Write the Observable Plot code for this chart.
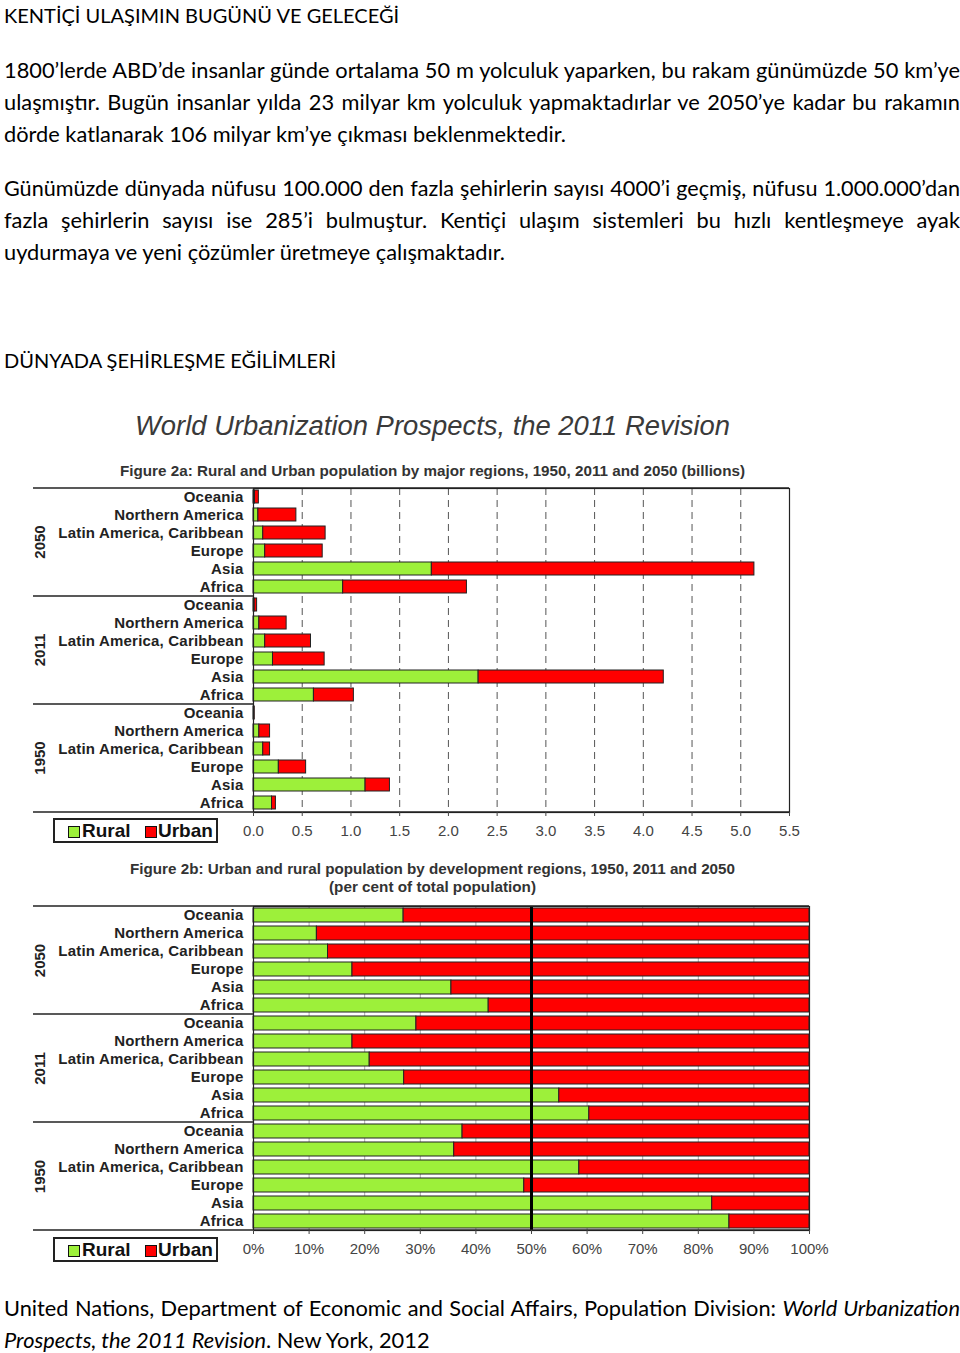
<!DOCTYPE html>
<html>
<head>
<meta charset="utf-8">
<script src="https://cdn.jsdelivr.net/npm/d3@7"></script>
<script src="https://cdn.jsdelivr.net/npm/@observablehq/plot@0.6"></script>
<style>
  html, body { margin: 0; padding: 0; background: #fff; }
  #page { position: relative; width: 960px; height: 1353px; overflow: hidden; }
  .txt { position: absolute; left: 4px; width: 956px; font-family: Lato, "Open Sans", sans-serif; font-size: 21.8px; line-height: 32px; color: #000; }
  .hd { font-size: 20px; }
  .j { text-align: justify; text-align-last: justify; }
  .ct { position: absolute; left: 0; white-space: nowrap; font-family: "Liberation Sans", Arial, sans-serif; color: #333; transform-origin: 0 50%; }
  .chart { position: absolute; left: 0; }
  .chart g[aria-label="y-axis tick label"] text { letter-spacing: 0.2px; }
  .legend { position: absolute; left: 53px; width: 165px; height: 25px; border: 2px solid #222; box-sizing: border-box; }
  .legend .sw { position: absolute; top: 6px; width: 10px; height: 10px; border: 1px solid #111; }
  .legend .lt { position: absolute; top: 0; line-height: 21px; font-family: "Liberation Sans", Arial, sans-serif; font-weight: bold; font-size: 19px; color: #111; }
</style>
</head>
<body>
<div id="page">
  <div class="txt hd" style="top:-1px">KENTİÇİ ULAŞIMIN BUGÜNÜ VE GELECEĞİ</div>
  <div class="txt" style="top:54px">
    <div class="j">1800’lerde ABD’de insanlar günde ortalama 50 m yolculuk yaparken, bu rakam günümüzde 50 km’ye</div>
    <div class="j">ulaşmıştır. Bugün insanlar yılda 23 milyar km yolculuk yapmaktadırlar ve 2050’ye kadar bu rakamın</div>
    <div>dörde katlanarak 106 milyar km’ye çıkması beklenmektedir.</div>
  </div>
  <div class="txt" style="top:172px">
    <div class="j">Günümüzde dünyada nüfusu 100.000 den fazla şehirlerin sayısı 4000’i geçmiş, nüfusu 1.000.000’dan</div>
    <div class="j">fazla şehirlerin sayısı ise 285’i bulmuştur. Kentiçi ulaşım sistemleri bu hızlı kentleşmeye ayak</div>
    <div>uydurmaya ve yeni çözümler üretmeye çalışmaktadır.</div>
  </div>
  <div class="txt hd" style="top:344px">DÜNYADA ŞEHİRLEŞME EĞİLİMLERİ</div>

  <div class="ct" id="t0" data-x="135" data-w="595" style="top:409px;font-size:27px;line-height:34px;font-style:italic;color:#3a3a3a">World Urbanization Prospects, the 2011 Revision</div>
  <div class="ct" id="t1" data-x="120" data-w="625" style="top:462px;font-size:15px;line-height:18px;font-weight:bold;font-family:'Liberation Sans Narrow','Liberation Sans',Arial,sans-serif">Figure 2a: Rural and Urban population by major regions, 1950, 2011 and 2050 (billions)</div>
  <div class="chart" id="chartA" style="top:480px"></div>
  <div class="legend" style="top:818px">
    <div class="sw" style="left:13px;background:#9df03a"></div><div class="lt" style="left:27px">Rural</div>
    <div class="sw" style="left:90px;background:#ff0000"></div><div class="lt" style="left:103px">Urban</div>
  </div>

  <div class="ct" id="t2" data-x="130" data-w="605" style="top:860px;font-size:15px;line-height:18px;font-weight:bold;font-family:'Liberation Sans Narrow','Liberation Sans',Arial,sans-serif">Figure 2b: Urban and rural population by development regions, 1950, 2011 and 2050</div>
  <div class="ct" id="t3" data-x="329" data-w="207" style="top:878px;font-size:15px;line-height:18px;font-weight:bold;font-family:'Liberation Sans Narrow','Liberation Sans',Arial,sans-serif">(per cent of total population)</div>
  <div class="chart" id="chartB" style="top:898px"></div>
  <div class="legend" style="top:1237px">
    <div class="sw" style="left:13px;background:#9df03a"></div><div class="lt" style="left:27px">Rural</div>
    <div class="sw" style="left:90px;background:#ff0000"></div><div class="lt" style="left:103px">Urban</div>
  </div>

  <div class="txt" style="top:1292px">
    <div class="j">United Nations, Department of Economic and Social Affairs, Population Division: <i>World Urbanization</i></div>
    <div><i>Prospects, the 2011 Revision</i>. New York, 2012</div>
  </div>
</div>
<script>
// ---------- data ----------
const years = ["2050", "2011", "1950"];
const regions = ["Oceania", "Northern America", "Latin America, Caribbean", "Europe", "Asia", "Africa"];
const types = ["Rural", "Urban"];
const typeColors = ["#9df03a", "#ff0000"];

// Figure 2a: billions (same order as regions)
const rural2050 = [0.015, 0.05, 0.10, 0.12, 1.83, 0.92];
const urban2050 = [0.04, 0.39, 0.64, 0.59, 3.31, 1.27];
const rural2011 = [0.012, 0.06, 0.12, 0.20, 2.31, 0.62];
const urban2011 = [0.025, 0.28, 0.47, 0.53, 1.90, 0.41];
const rural1950 = [0.005, 0.06, 0.10, 0.26, 1.15, 0.19];
const urban1950 = [0.008, 0.11, 0.07, 0.28, 0.25, 0.04];

// Figure 2b: rural share, per cent of total population
const ruralPct2050 = [27.0, 11.4, 13.4, 17.8, 35.6, 42.3];
const ruralPct2011 = [29.3, 17.8, 20.9, 27.1, 55.0, 60.4];
const ruralPct1950 = [37.6, 36.1, 58.6, 48.7, 82.5, 85.6];

const xTicksA = [0, 0.5, 1, 1.5, 2, 2.5, 3, 3.5, 4, 4.5, 5, 5.5];
const xTicksB = [0, 10, 20, 30, 40, 50, 60, 70, 80, 90, 100];

// ---------- tables ----------
const keyOf = (y, r) => y + "|" + r;
const keys = years.flatMap(y => regions.map(r => keyOf(y, r)));
const absByYear = { "2050": [rural2050, urban2050], "2011": [rural2011, urban2011], "1950": [rural1950, urban1950] };
const pctByYear = { "2050": ruralPct2050, "2011": ruralPct2011, "1950": ruralPct1950 };

const rowsA = [];
const rowsB = [];
for (const y of years) {
  regions.forEach((r, i) => {
    rowsA.push({ key: keyOf(y, r), type: "Rural", value: absByYear[y][0][i] });
    rowsA.push({ key: keyOf(y, r), type: "Urban", value: absByYear[y][1][i] });
    rowsB.push({ key: keyOf(y, r), type: "Rural", value: pctByYear[y][i] });
    rowsB.push({ key: keyOf(y, r), type: "Urban", value: 100 - pctByYear[y][i] });
  });
}

// decoration: group separator lines extending into the label area
function groupLines(index, scales, values, dims) {
  const g = d3.create("svg:g").attr("stroke", "#222").attr("stroke-width", 1.5);
  const t = dims.marginTop, b = dims.height - dims.marginBottom;
  const n = years.length;
  const x0 = dims.marginLeft - 220;
  for (let i = 0; i <= n; i++) {
    const yy = t + (b - t) * i / n;
    const full = (i === 0 || i === n);
    g.append("line").attr("x1", x0).attr("x2", full ? dims.width - dims.marginRight : dims.marginLeft)
      .attr("y1", yy).attr("y2", yy);
  }
  return g.node();
}

function makeChart(rows, opts) {
  return Plot.plot({
    width: 960, height: 380,
    marginTop: 8, marginBottom: 48, marginLeft: 253, marginRight: opts.marginRight,
    x: { domain: opts.domain },
    y: { domain: keys, paddingInner: opts.pad, paddingOuter: opts.pad / 2, align: 0.5 },
    color: { domain: types, range: typeColors },
    style: { fontFamily: "'Liberation Sans', Arial, sans-serif", fontSize: "15px", color: "#222", background: "transparent", overflow: "visible" },
    marks: [
      opts.grid,
      Plot.barX(rows, { x: "value", y: "key", fill: "type", stroke: "#222", strokeWidth: 1 }),
      ...(opts.extra || []),
      Plot.frame({ stroke: "#222", strokeWidth: 1.2 }),
      groupLines,
      Plot.axisX({ ticks: opts.ticks, tickFormat: opts.fmt, tickSize: 4, tickPadding: 9, color: "#444", fontSize: 15, label: null }),
      Plot.axisY({ tickFormat: k => k.split("|")[1], tickSize: 0, tickPadding: 10, fontWeight: "bold", fontSize: 15, fill: "#222", label: null }),
      Plot.text(years, { y: d => keyOf(d, "Latin America, Caribbean"), text: d => d, frameAnchor: "left", textAnchor: "middle", dx: -213, dy: 9, rotate: -90, fontWeight: "bold", fontSize: 15, fill: "#222" })
    ]
  });
}

const chartA = makeChart(rowsA, {
  domain: [0, 5.5], marginRight: 171, pad: 0.26, ticks: xTicksA, fmt: d => d.toFixed(1),
  grid: Plot.gridX(xTicksA.slice(1, -1), { stroke: "#555", strokeOpacity: 1, strokeDasharray: "7,5", strokeWidth: 1 })
});
const chartB = makeChart(rowsB, {
  domain: [0, 100], marginRight: 151, pad: 0.22, ticks: xTicksB, fmt: d => d + "%",
  grid: Plot.gridX(xTicksB.slice(1, -1), { stroke: "#aaa", strokeOpacity: 1, strokeWidth: 1 }),
  extra: [Plot.ruleX([50], { stroke: "#000", strokeWidth: 3 })]
});
document.getElementById("chartA").appendChild(chartA);
document.getElementById("chartB").appendChild(chartB);

// keep each justified line on one line
for (const el of document.querySelectorAll(".j")) {
  let fs = parseFloat(getComputedStyle(el).fontSize);
  while (el.getBoundingClientRect().height > 40 && fs > 14) {
    fs -= 0.2;
    el.style.fontSize = fs + "px";
  }
}

// fit chart title texts to their widths in the reference
for (const id of ["t0", "t1", "t2", "t3"]) {
  const el = document.getElementById(id);
  const w = el.getBoundingClientRect().width;
  const target = +el.dataset.w;
  el.style.left = el.dataset.x + "px";
  el.style.transform = `scaleX(${target / w})`;
}
</script>
</body>
</html>
